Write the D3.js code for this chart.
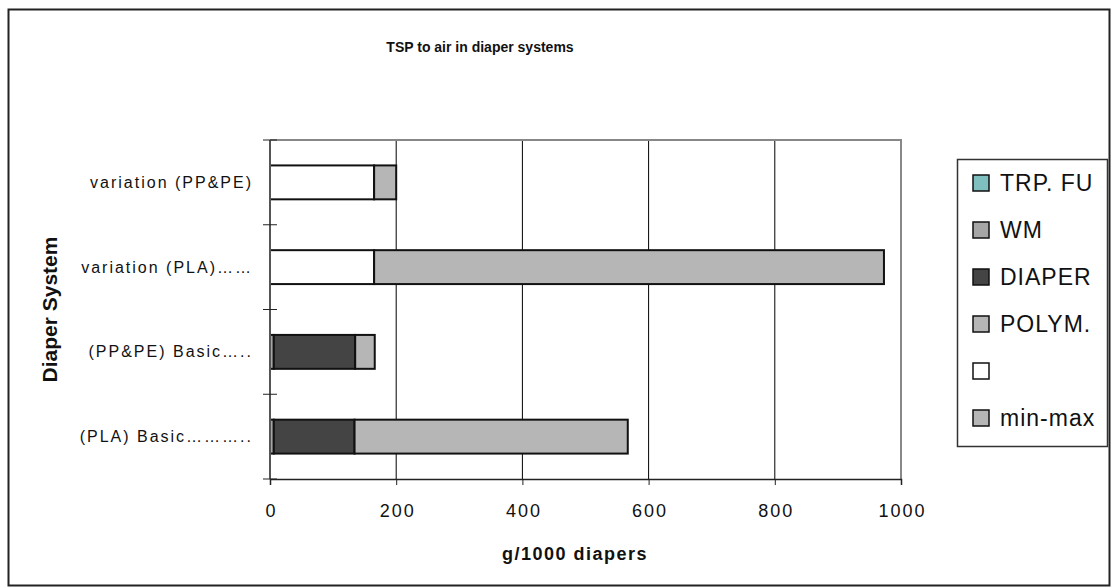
<!DOCTYPE html>
<html>
<head>
<meta charset="utf-8">
<script src="https://cdn.jsdelivr.net/npm/d3@7"></script>
<style>
  html, body { margin: 0; padding: 0; background: #fff; }
  svg { display: block; font-family: "Liberation Sans", Arial, sans-serif; }
</style>
</head>
<body>
<svg id="chart" width="1112" height="587"></svg>
<script>
// Diaper systems, listed top to bottom
const categories = [
  "variation (PP&PE)",
  "variation (PLA)……",
  "(PP&PE) Basic…..",
  "(PLA) Basic……….."
];
// Stack components, g/1000 diapers
const seriesNames = ["TRP. FU", "WM", "DIAPER", "POLYM.", "", "min-max"];
const trpFu  = [0, 0, 0, 0];
const wm     = [0, 0, 6, 6];
const diaper = [0, 0, 129, 128];
const polym  = [0, 0, 31, 433];
const blank  = [165, 165, 0, 0];
const minMax = [35, 808, 0, 0];
const xTicks = [0, 200, 400, 600, 800, 1000];

const seriesValues = [trpFu, wm, diaper, polym, blank, minMax];
const colors = ["#7fbfbf", "#a6a6a6", "#444444", "#b6b6b6", "#ffffff", "#b6b6b6"];

const svg = d3.select("#chart");

// outer frame
svg.append("rect")
  .attr("x", 8.5).attr("y", 9.5).attr("width", 1101).attr("height", 576)
  .attr("fill", "#fff").attr("stroke", "#222").attr("stroke-width", 2);

const plot = { left: 270, right: 901, top: 140, bottom: 479 };

const x = d3.scaleLinear().domain([0, 1000]).range([plot.left, plot.right]);
const y = d3.scaleBand().domain(categories).range([plot.top, plot.bottom])
  .paddingInner(0.6).paddingOuter(0.3);

// vertical gridlines
svg.append("g").selectAll("line").data(xTicks.filter(d => d > 0 && d < 1000)).join("line")
  .attr("x1", d => x(d)).attr("x2", d => x(d))
  .attr("y1", plot.top).attr("y2", plot.bottom)
  .attr("stroke", "#000").attr("stroke-width", 1);

// plot frame (top and right)
svg.append("path")
  .attr("d", `M${plot.left},${plot.top}H${plot.right}V${plot.bottom}`)
  .attr("fill", "none").attr("stroke", "#888").attr("stroke-width", 2);

// stacked bars
const rows = categories.map((c, i) => {
  const r = { cat: c };
  seriesNames.forEach((s, k) => { r["s" + k] = seriesValues[k][i]; });
  return r;
});
const keys = seriesNames.map((s, k) => "s" + k);
const stacked = d3.stack().keys(keys)(rows);

svg.append("g").selectAll("g").data(stacked).join("g")
  .attr("fill", (d, k) => colors[k])
  .selectAll("rect").data(d => d.filter(p => p[1] - p[0] > 0)).join("rect")
  .attr("x", p => x(p[0]))
  .attr("width", p => x(p[1]) - x(p[0]))
  .attr("y", p => y(p.data.cat))
  .attr("height", y.bandwidth())
  .attr("stroke", "#111").attr("stroke-width", 2);

// x axis
const xAxis = d3.axisBottom(x).tickValues(xTicks).tickSize(6).tickPadding(19).tickFormat(d3.format("d"));
const gx = svg.append("g").attr("transform", `translate(0,${plot.bottom})`).call(xAxis);
gx.select(".domain").attr("stroke", "#222").attr("stroke-width", 1.5);
gx.selectAll(".tick line").attr("stroke", "#222");
gx.selectAll(".tick text").attr("font-size", 18).attr("letter-spacing", 2)
  .attr("dx", 1).attr("fill", "#111")
  .attr("font-family", "Liberation Sans, Arial, sans-serif");

// y axis: line with crossing ticks at category boundaries
const step = y.step();
const boundaries = d3.range(categories.length + 1).map(i => plot.top + i * step);
svg.append("line")
  .attr("x1", plot.left).attr("x2", plot.left)
  .attr("y1", plot.top).attr("y2", plot.bottom)
  .attr("stroke", "#555").attr("stroke-width", 2);
svg.append("g").selectAll("line").data(boundaries).join("line")
  .attr("x1", plot.left - 7).attr("x2", plot.left + 7)
  .attr("y1", d => d).attr("y2", d => d)
  .attr("stroke", "#222").attr("stroke-width", 1);

// category labels
svg.append("g").selectAll("text").data(categories).join("text")
  .attr("x", 253)
  .attr("y", d => y(d) + y.bandwidth() / 2)
  .attr("text-anchor", "end")
  .attr("dominant-baseline", "central")
  .attr("font-size", 16)
  .attr("letter-spacing", 2)
  .attr("fill", "#111")
  .text(d => d);

// titles
svg.append("text")
  .attr("x", 480).attr("y", 52)
  .attr("text-anchor", "middle")
  .attr("font-size", 14).attr("font-weight", "bold").attr("fill", "#111")
  .text("TSP to air in diaper systems");

svg.append("text")
  .attr("x", 575).attr("y", 560)
  .attr("text-anchor", "middle")
  .attr("font-size", 18).attr("font-weight", "bold").attr("letter-spacing", 1.5).attr("fill", "#111")
  .text("g/1000 diapers");

svg.append("text")
  .attr("transform", `translate(57,${(plot.top + plot.bottom) / 2}) rotate(-90)`)
  .attr("text-anchor", "middle")
  .attr("font-size", 21).attr("font-weight", "bold").attr("fill", "#111")
  .text("Diaper System");

// legend
const legend = svg.append("g");
legend.append("rect")
  .attr("x", 957.5).attr("y", 159.5).attr("width", 150).attr("height", 287)
  .attr("fill", "#fff").attr("stroke", "#333").attr("stroke-width", 1.5);
const items = legend.selectAll("g.item").data(seriesNames).join("g")
  .attr("class", "item")
  .attr("transform", (d, i) => `translate(0,${183 + i * 47})`);
items.append("rect")
  .attr("x", 973).attr("y", -8).attr("width", 16).attr("height", 16)
  .attr("fill", (d, i) => colors[i]).attr("stroke", "#111").attr("stroke-width", 1.5);
items.append("text")
  .attr("x", 1000).attr("y", 0)
  .attr("dominant-baseline", "central")
  .attr("font-size", 23).attr("letter-spacing", 1).attr("fill", "#111")
  .text(d => d);
</script>
</body>
</html>
